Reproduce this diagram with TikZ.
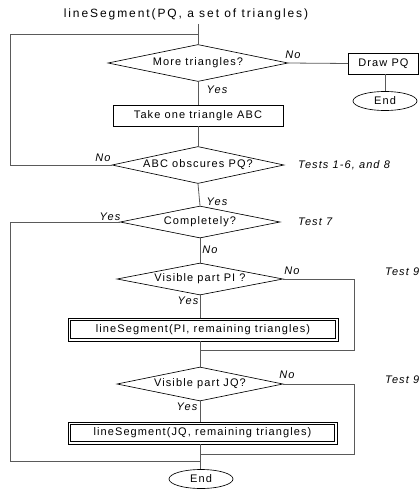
\documentclass[tikz,border=0pt]{standalone}
\usepackage{fontspec}
\setmainfont{Liberation Sans}[LetterSpace=10]
\newfontfamily\titlefont{Liberation Sans}[LetterSpace=16]
\usetikzlibrary{shapes.geometric}
\definecolor{conn}{HTML}{5A5A5A}
\tikzset{
  dia/.style={diamond, draw=black, line width=0.65pt, inner sep=0pt},
  boxnode/.style={rectangle, draw=black, line width=0.65pt, inner sep=0pt, font=\fontsize{11}{13}\selectfont},
  dblbox/.style={rectangle, draw=black, line width=0.65pt, inner sep=0pt},
  innerbox/.style={draw=black, line width=0.65pt},
  endnode/.style={ellipse, draw=black, line width=0.65pt, inner sep=0pt, minimum width=64pt, minimum height=19pt, font=\fontsize{11}{13}\selectfont},
  lbl/.style={font=\fontsize{11}{13}\selectfont\itshape, inner sep=0pt},
  txt/.style={font=\fontsize{11}{13}\selectfont},
  conn/.style={draw=conn, line width=0.8pt},
}
\begin{document}
\begin{tikzpicture}[x=1pt,y=-1pt]
\useasboundingbox (0,0) rectangle (419,490);

\node[font=\titlefont\fontsize{12}{14}\selectfont, inner sep=0pt] (title) at (186,14) {lineSegment(PQ, a set of triangles)};

\node[dia, minimum width=180pt, minimum height=37pt, label={[txt]center:More triangles?}] (more) at (198,63) {};
\node[boxnode, minimum width=70pt, minimum height=21pt] (draw) at (383.5,63.5) {Draw PQ};
\node[endnode] (end1) at (385,101) {End};
\node[boxnode, minimum width=170pt, minimum height=21pt] (take) at (198,115.5) {Take one triangle ABC};
\node[dia, minimum width=172pt, minimum height=37pt, label={[txt]center:ABC obscures PQ?}] (abc) at (198,165) {};
\node[dia, minimum width=160pt, minimum height=32pt, label={[txt]center:Completely?}] (comp) at (200,222) {};
\node[dia, minimum width=166pt, minimum height=32pt, label={[txt]center:Visible part PI ?}] (vpi) at (200,279) {};
\node[dblbox, minimum width=270pt, minimum height=23pt, label={[txt]center:lineSegment(PI, remaining triangles)}] (pibox) at (203,329.5) {};
\node[dia, minimum width=166pt, minimum height=34pt, label={[txt]center:Visible part JQ?}] (vjq) at (200,384) {};
\node[dblbox, minimum width=269pt, minimum height=22pt, label={[txt]center:lineSegment(JQ, remaining triangles)}] (jqbox) at (202.5,433) {};
\node[endnode] (end2) at (201,479) {End};

\draw[innerbox] ([shift={(3,3)}]pibox.north west) rectangle ([shift={(-3,-3)}]pibox.south east);
\draw[innerbox] ([shift={(3,3)}]jqbox.north west) rectangle ([shift={(-3,-3)}]jqbox.south east);

\coordinate (l1) at (10,34);
\coordinate (l2) at (10,461);
\coordinate (r1) at (354,350);
\coordinate (r2) at (354,454);

% connectors
\draw[conn] (more.north |- title.south) ++(0,4) -- (more.north);
\draw[conn] (abc.west) -- (abc.west -| l1) -- (l1) -- (l1 -| more.north);
\draw[conn] (more.east) -- (draw.west);
\draw[conn] (draw.south -| end1.north) -- (end1.north);
\draw[conn] (more.south) -- (take.north -| more.south);
\draw[conn] (take.south -| abc.north) -- (abc.north);
\draw[conn] (abc.south) -- (comp.north);
\draw[conn] (comp.south) -- (vpi.north);
\draw[conn] (vpi.south) -- (vpi.south |- pibox.north);
\draw[conn] (vpi.south |- pibox.south) -- (vjq.north);
\draw[conn] (vjq.south) -- (vjq.south |- jqbox.north);
\draw[conn] (vjq.south |- jqbox.south) -- (end2.north -| vjq.south);
\draw[conn] (vpi.east) -- (vpi.east -| r1) -- (r1) -- (r1 -| vpi.south);
\draw[conn] (vjq.east) -- (vjq.east -| r2) -- (r2) -- (r2 -| vjq.south);
\draw[conn] (comp.west) -- (comp.west -| l2) -- (l2) -- (l2 -| vjq.south);

% labels
\node[lbl] (n1) at (293,55) {No};
\node[lbl] (y1) at (217,90) {Yes};
\node[lbl] (n2) at (103,158) {No};
\node[lbl, anchor=west] (t1) at (298,165) {Tests 1-6, and 8};
\node[lbl] (y2) at (217,202) {Yes};
\node[lbl] (y3) at (110,217) {Yes};
\node[lbl, anchor=west] (t7) at (298,222) {Test 7};
\node[lbl] (n3) at (210,250) {No};
\node[lbl] (n4) at (292,271) {No};
\node[lbl, anchor=west] (t9a) at (385,272) {Test 9};
\node[lbl] (y4) at (188,301) {Yes};
\node[lbl] (n5) at (287,375) {No};
\node[lbl, anchor=west] (t9b) at (385,380) {Test 9};
\node[lbl] (y5) at (187,407) {Yes};
\end{tikzpicture}
\end{document}
